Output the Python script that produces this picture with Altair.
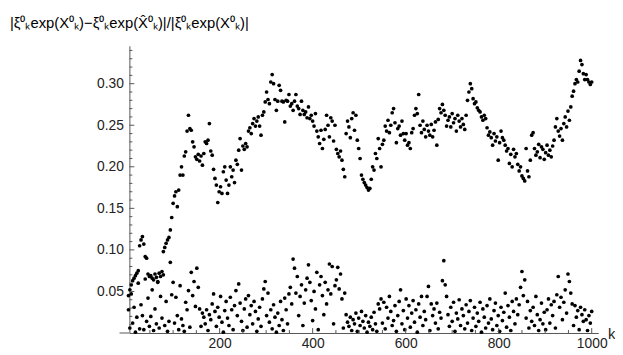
import altair as alt
import pandas as pd

# k index (every 3rd step)
k_values = list(range(4, 1001, 3))

upper = [
    0.045, 0.052, 0.058, 0.063, 0.066, 0.069, 0.072, 0.075, 0.105, 0.112,
    0.116, 0.107, 0.092, 0.090, 0.071, 0.068, 0.069, 0.066, 0.064, 0.071,
    0.067, 0.062, 0.072, 0.068, 0.074, 0.098, 0.103, 0.108, 0.112, 0.115,
    0.124, 0.139, 0.156, 0.165, 0.170, 0.152, 0.172, 0.190, 0.200, 0.190,
    0.213, 0.218, 0.243, 0.262, 0.246, 0.244, 0.230, 0.224, 0.212, 0.209,
    0.215, 0.207, 0.213, 0.202, 0.216, 0.230, 0.228, 0.232, 0.252, 0.219,
    0.214, 0.197, 0.186, 0.178, 0.157, 0.170, 0.176, 0.168, 0.194, 0.200,
    0.184, 0.168, 0.178, 0.200, 0.188, 0.196, 0.181, 0.208, 0.203, 0.220,
    0.234, 0.196, 0.225, 0.221, 0.228, 0.224, 0.243, 0.247, 0.240, 0.252,
    0.258, 0.249, 0.255, 0.260, 0.249, 0.238, 0.262, 0.266, 0.278, 0.290,
    0.281, 0.276, 0.302, 0.311, 0.300, 0.281, 0.268, 0.279, 0.298, 0.292,
    0.279, 0.278, 0.254, 0.280, 0.279, 0.287, 0.273, 0.276, 0.268, 0.279,
    0.287, 0.273, 0.270, 0.263, 0.279, 0.268, 0.263, 0.266, 0.259, 0.272,
    0.258, 0.262, 0.255, 0.249, 0.264, 0.243, 0.236, 0.228, 0.244, 0.222,
    0.233, 0.245, 0.262, 0.250, 0.236, 0.259, 0.255, 0.231, 0.250, 0.221,
    0.216, 0.212, 0.219, 0.208, 0.197, 0.188, 0.240, 0.255, 0.248, 0.235,
    0.258, 0.265, 0.244, 0.262, 0.232, 0.222, 0.210, 0.190, 0.185, 0.181,
    0.178, 0.175, 0.172, 0.174, 0.185, 0.200, 0.196, 0.216, 0.210, 0.234,
    0.222, 0.200, 0.227, 0.232, 0.249, 0.243, 0.256, 0.241, 0.250, 0.265,
    0.270, 0.253, 0.229, 0.246, 0.249, 0.238, 0.255, 0.240, 0.232, 0.240,
    0.226, 0.229, 0.222, 0.241, 0.246, 0.262, 0.270, 0.264, 0.287, 0.250,
    0.241, 0.255, 0.245, 0.236, 0.250, 0.243, 0.238, 0.251, 0.236, 0.244,
    0.254, 0.226, 0.257, 0.270, 0.265, 0.275, 0.268, 0.262, 0.249, 0.256,
    0.260, 0.248, 0.264, 0.253, 0.258, 0.243, 0.262, 0.255, 0.248, 0.258,
    0.251, 0.245, 0.262, 0.280, 0.290, 0.300, 0.294, 0.282, 0.276, 0.278,
    0.271, 0.268, 0.266, 0.260, 0.256, 0.262, 0.258, 0.247, 0.238, 0.242,
    0.235, 0.226, 0.240, 0.231, 0.236, 0.208, 0.229, 0.243, 0.235, 0.232,
    0.226, 0.219, 0.222, 0.204, 0.215, 0.200, 0.221, 0.212, 0.216, 0.203,
    0.195, 0.200, 0.189, 0.186, 0.183, 0.222, 0.195, 0.188, 0.208, 0.238,
    0.241, 0.222, 0.214, 0.218, 0.227, 0.211, 0.224, 0.221, 0.209, 0.217,
    0.226, 0.214, 0.220, 0.212, 0.225, 0.232, 0.248, 0.258, 0.243, 0.237,
    0.246, 0.232, 0.252, 0.260, 0.248, 0.267, 0.256, 0.272, 0.285, 0.291,
    0.300, 0.305, 0.302, 0.315, 0.328, 0.323, 0.312, 0.305, 0.311, 0.305,
    0.302, 0.299, 0.302,
]

lower = [
    0.028, 0.006, 0.047, 0.012, 0.031, 0.001, 0.019, 0.060, 0.005, 0.034,
    0.021, 0.004, 0.065, 0.014, 0.042, 0.008, 0.020, 0.052, 0.003, 0.029,
    0.011, 0.061, 0.006, 0.044, 0.018, 0.070, 0.009, 0.038, 0.002, 0.014,
    0.085, 0.046, 0.061, 0.012, 0.043, 0.021, 0.004, 0.057, 0.017, 0.009,
    0.002, 0.037, 0.028, 0.051, 0.007, 0.073, 0.045, 0.062, 0.032, 0.078,
    0.055, 0.029, 0.008, 0.024, 0.019, 0.011, 0.028, 0.003, 0.022, 0.016,
    0.035, 0.047, 0.026, 0.008, 0.031, 0.019, 0.044, 0.013, 0.001, 0.027,
    0.038, 0.018, 0.009, 0.043, 0.028, 0.004, 0.033, 0.051, 0.021, 0.059,
    0.036, 0.014, 0.003, 0.029, 0.041, 0.007, 0.045, 0.022, 0.033, 0.011,
    0.038, 0.026, 0.002, 0.017, 0.031, 0.008, 0.041, 0.053, 0.062, 0.021,
    0.048, 0.013, 0.028, 0.005, 0.034, 0.019, 0.001, 0.024, 0.009, 0.038,
    0.016, 0.003, 0.042, 0.028, 0.011, 0.047, 0.055, 0.035, 0.089, 0.078,
    0.048, 0.068, 0.021, 0.044, 0.058, 0.009, 0.036, 0.052, 0.066, 0.082,
    0.061, 0.039, 0.015, 0.050, 0.029, 0.073, 0.004, 0.058, 0.068, 0.045,
    0.022, 0.061, 0.035, 0.052, 0.083, 0.047, 0.080, 0.011, 0.057, 0.064,
    0.079, 0.053, 0.071, 0.041, 0.006, 0.048, 0.022, 0.013, 0.008, 0.019,
    0.003, 0.016, 0.011, 0.024, 0.002, 0.018, 0.009, 0.026, 0.014, 0.006,
    0.021, 0.001, 0.013, 0.008, 0.019, 0.004, 0.025, 0.011, 0.002, 0.035,
    0.029, 0.041, 0.012, 0.037, 0.005, 0.031, 0.018, 0.044, 0.026, 0.009,
    0.015, 0.033, 0.002, 0.021, 0.038, 0.052, 0.011, 0.027, 0.004, 0.041,
    0.018, 0.033, 0.007, 0.024, 0.039, 0.013, 0.028, 0.001, 0.035, 0.019,
    0.044, 0.009, 0.026, 0.016, 0.044, 0.056, 0.003, 0.035, 0.021, 0.029,
    0.012, 0.036, 0.005, 0.025, 0.018, 0.063, 0.087, 0.058, 0.044, 0.022,
    0.008, 0.031, 0.014, 0.037, 0.002, 0.024, 0.017, 0.040, 0.009, 0.029,
    0.021, 0.005, 0.034, 0.012, 0.026, 0.039, 0.003, 0.018, 0.031, 0.008,
    0.024, 0.014, 0.037, 0.001, 0.029, 0.019, 0.006, 0.033, 0.012, 0.041,
    0.017, 0.004, 0.027, 0.036, 0.009, 0.021, 0.002, 0.031, 0.015, 0.025,
    0.048, 0.007, 0.033, 0.019, 0.003, 0.038, 0.026, 0.011, 0.041, 0.022,
    0.034, 0.055, 0.074, 0.045, 0.064, 0.018, 0.038, 0.006, 0.027, 0.014,
    0.031, 0.009, 0.044, 0.022, 0.003, 0.016, 0.036, 0.011, 0.025, 0.004,
    0.028, 0.041, 0.012, 0.034, 0.021, 0.038, 0.006, 0.046, 0.068, 0.031,
    0.043, 0.016, 0.037, 0.052, 0.024, 0.071, 0.062, 0.048, 0.035, 0.009,
    0.033, 0.019, 0.027, 0.004, 0.031, 0.022, 0.014, 0.028, 0.016, 0.003,
    0.021, 0.012, 0.026,
]

x_major = [200, 400, 600, 800, 1000]
x_minor = [50, 100, 150, 250, 300, 350, 450, 500, 550, 650, 700, 750, 850, 900, 950]
y_major = [0.05, 0.10, 0.15, 0.20, 0.25, 0.30]
y_minor = [0.01, 0.02, 0.03, 0.04, 0.06, 0.07, 0.08, 0.09, 0.11, 0.12, 0.13, 0.14,
           0.16, 0.17, 0.18, 0.19, 0.21, 0.22, 0.23, 0.24, 0.26, 0.27, 0.28, 0.29,
           0.31, 0.32, 0.33, 0.34]

title_text = "|ξ⁰ₖexp(X⁰ₖ)−ξ⁰ₖexp(X̂⁰ₖ)|/|ξ⁰ₖexp(X⁰ₖ)|"

W, H = 475, 291
XD = [6, 1014]
YD = [0, 0.3456]
FONT = "Liberation Sans"
AX = "#555555"

df = pd.DataFrame({
    "k": k_values + k_values,
    "v": upper + lower,
})

xs = alt.Scale(domain=XD, nice=False, zero=False)
ys = alt.Scale(domain=YD, nice=False, zero=False)

x_axis = alt.Axis(
    values=x_major, format="d", ticks=False, grid=False, domainColor=AX,
    labelFont=FONT, labelFontSize=14, labelColor="#222", labelPadding=4,
    title=None)
y_axis = alt.Axis(
    values=y_major, format=".2f", ticks=False, grid=False, domainColor=AX,
    labelFont=FONT, labelFontSize=14, labelColor="#222", labelPadding=6,
    title=None)

points = alt.Chart(df).mark_circle(size=14, color="black", opacity=1).encode(
    x=alt.X("k:Q", scale=xs, axis=x_axis),
    y=alt.Y("v:Q", scale=ys, axis=y_axis),
)

ymaj = alt.Chart(pd.DataFrame({"v": y_major})).mark_rule(color=AX).encode(
    y=alt.Y("v:Q", scale=ys, axis=y_axis), x=alt.value(0), x2=alt.value(5))
ymin = alt.Chart(pd.DataFrame({"v": y_minor})).mark_rule(color=AX).encode(
    y=alt.Y("v:Q", scale=ys, axis=y_axis), x=alt.value(0), x2=alt.value(3))
xmaj = alt.Chart(pd.DataFrame({"k": x_major})).mark_rule(color=AX).encode(
    x=alt.X("k:Q", scale=xs, axis=x_axis), y=alt.value(H), y2=alt.value(H - 5))
xmin = alt.Chart(pd.DataFrame({"k": x_minor})).mark_rule(color=AX).encode(
    x=alt.X("k:Q", scale=xs, axis=x_axis), y=alt.value(H), y2=alt.value(H - 3))
xext = alt.Chart(pd.DataFrame({"a": [0]})).mark_rule(color=AX).encode(
    x=alt.value(-10), x2=alt.value(0), y=alt.value(H))

title = alt.Chart(pd.DataFrame({"t": [title_text]})).mark_text(
    align="left", baseline="middle", font=FONT, fontSize=15, color="black"
).encode(x=alt.value(-121), y=alt.value(-23), text="t:N")

klabel = alt.Chart(pd.DataFrame({"t": ["k"]})).mark_text(
    align="left", baseline="middle", font=FONT, fontSize=15, color="#222"
).encode(x=alt.value(W + 10), y=alt.value(H + 1), text="t:N")

chart = alt.layer(points, xext, ymin, ymaj, xmin, xmaj, title, klabel).properties(
    width=W, height=H,
    autosize=alt.AutoSizeParams(type="none"),
    padding={"left": 123, "top": 36, "right": 17, "bottom": 20},
).configure_view(stroke=None)

chart.save("out.html", embed_options={"renderer": "svg", "actions": False})
